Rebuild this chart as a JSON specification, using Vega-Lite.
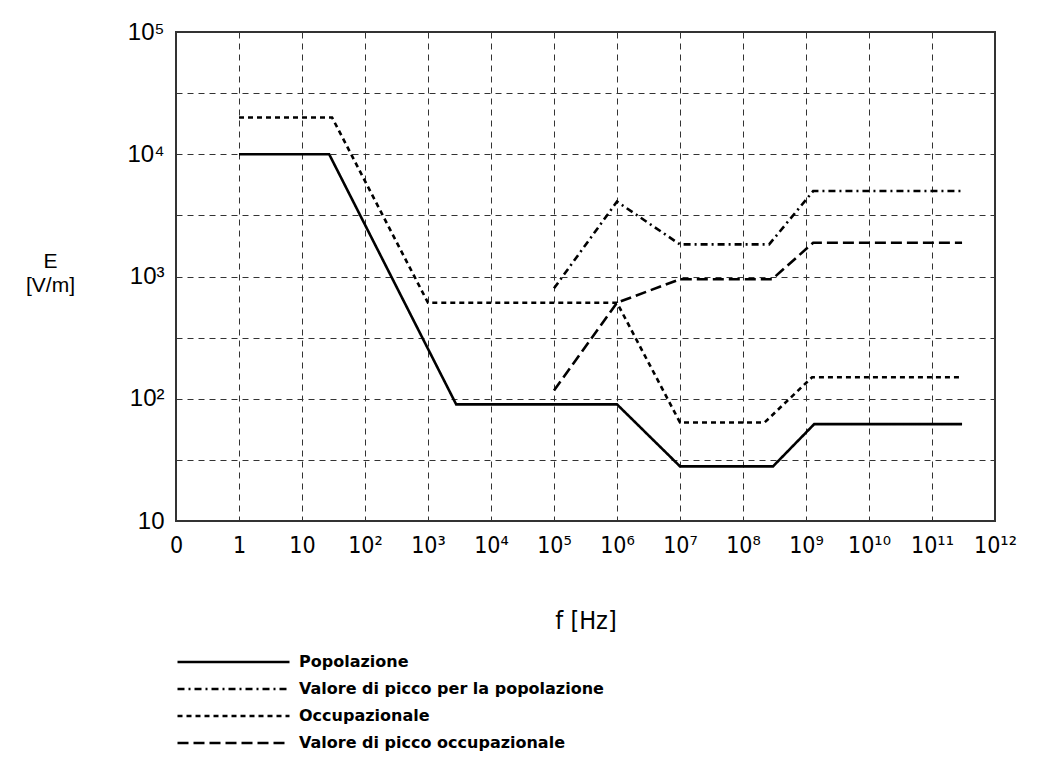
{
  "$schema": "https://vega.github.io/schema/vega-lite/v6.json",
  "width": 819,
  "height": 489,
  "autosize": "none",
  "padding": {"left": 176, "top": 32, "right": 43, "bottom": 250},
  "background": "white",
  "config": {
    "view": {"stroke": "#333", "strokeWidth": 2},
    "font": "Liberation Sans"
  },
  "data": {
    "values": [
      {"f": 1, "E": 10000, "s": "Popolazione"},
      {"f": 27, "E": 10000, "s": "Popolazione"},
      {"f": 2800, "E": 90, "s": "Popolazione"},
      {"f": 1000000, "E": 90, "s": "Popolazione"},
      {"f": 10000000, "E": 28, "s": "Popolazione"},
      {"f": 300000000, "E": 28, "s": "Popolazione"},
      {"f": 1350000000, "E": 62, "s": "Popolazione"},
      {"f": 300000000000, "E": 62, "s": "Popolazione"},
      {"f": 100000, "E": 800, "s": "Valore di picco per la popolazione"},
      {"f": 1000000, "E": 4100, "s": "Valore di picco per la popolazione"},
      {"f": 10000000, "E": 1830, "s": "Valore di picco per la popolazione"},
      {"f": 260000000, "E": 1830, "s": "Valore di picco per la popolazione"},
      {"f": 1300000000, "E": 5000, "s": "Valore di picco per la popolazione"},
      {"f": 300000000000, "E": 5000, "s": "Valore di picco per la popolazione"},
      {"f": 1, "E": 20000, "s": "Occupazionale"},
      {"f": 30, "E": 20000, "s": "Occupazionale"},
      {"f": 1000, "E": 610, "s": "Occupazionale"},
      {"f": 1000000, "E": 610, "s": "Occupazionale"},
      {"f": 10000000, "E": 64, "s": "Occupazionale"},
      {"f": 220000000, "E": 64, "s": "Occupazionale"},
      {"f": 1250000000, "E": 150, "s": "Occupazionale"},
      {"f": 300000000000, "E": 150, "s": "Occupazionale"},
      {"f": 100000, "E": 117, "s": "Valore di picco occupazionale"},
      {"f": 1000000, "E": 610, "s": "Valore di picco occupazionale"},
      {"f": 10000000, "E": 950, "s": "Valore di picco occupazionale"},
      {"f": 290000000, "E": 950, "s": "Valore di picco occupazionale"},
      {"f": 1300000000, "E": 1890, "s": "Valore di picco occupazionale"},
      {"f": 300000000000, "E": 1890, "s": "Valore di picco occupazionale"}
    ]
  },
  "mark": {"type": "line", "color": "black", "strokeWidth": 2.6, "clip": true},
  "encoding": {
    "x": {
      "field": "f",
      "type": "quantitative",
      "scale": {"type": "log", "domain": [0.1, 1000000000000], "nice": false},
      "axis": {
        "title": "f [Hz]",
        "values": [0.1, 1, 10, 100, 1000, 10000, 100000, 1000000, 10000000, 100000000, 1000000000, 10000000000, 100000000000, 1000000000000],
        "labelExpr": "['0','1','10','10²','10³','10⁴','10⁵','10⁶','10⁷','10⁸','10⁹','10¹⁰','10¹¹','10¹²'][round(log(datum.value)/LN10)+1]",
        "labelOverlap": false,
        "labelFlush": false,
        "labelBound": false,
        "labelFont": "DejaVu Sans Condensed",
        "labelFontSize": 23,
        "labelColor": "black",
        "labelPadding": 13,
        "ticks": false,
        "domain": false,
        "grid": true,
        "gridDash": [6, 5],
        "gridColor": "#333",
        "gridOpacity": 1,
        "gridWidth": 1,
        "titleFont": "DejaVu Sans Condensed",
        "titleFontSize": 25,
        "titleFontWeight": "normal",
        "titleColor": "black",
        "titleY": 99,
        "titleBaseline": "middle"
      }
    },
    "y": {
      "field": "E",
      "type": "quantitative",
      "scale": {"type": "log", "domain": [10, 100000], "nice": false},
      "axis": {
        "title": ["E", "[V/m]"],
        "values": [10, 31.62, 100, 316.2, 1000, 3162, 10000, 31623, 100000],
        "labelExpr": "abs(log(datum.value)/LN10 - round(log(datum.value)/LN10)) > 0.1 ? '' : ['', '10', '10²', '10³', '10⁴', '10⁵'][round(log(datum.value)/LN10)]",
        "labelOverlap": false,
        "labelFlush": false,
        "labelBound": false,
        "labelFontSize": 24,
        "labelColor": "black",
        "labelPadding": 12,
        "ticks": false,
        "domain": false,
        "grid": true,
        "gridDash": [6, 5],
        "gridColor": "#333",
        "gridOpacity": 1,
        "gridWidth": 1,
        "titleAngle": 0,
        "titleAlign": "center",
        "titleBaseline": "top",
        "titleX": -126,
        "titleY": 218,
        "titleFontSize": 21,
        "titleFontWeight": "normal",
        "titleColor": "black",
        "titleLineHeight": 24
      }
    },
    "strokeDash": {
      "field": "s",
      "type": "nominal",
      "scale": {
        "domain": ["Popolazione", "Valore di picco per la popolazione", "Occupazionale", "Valore di picco occupazionale"],
        "range": [[1, 0], [7, 4, 2, 4], [5, 4], [11, 5]]
      },
      "legend": {
        "title": null,
        "orient": "none",
        "legendX": 0,
        "legendY": 622,
        "symbolType": "stroke",
        "symbolSize": 12544,
        "symbolStrokeWidth": 2.6,
        "symbolStrokeColor": "black",
        "clipHeight": 16,
        "rowPadding": 11,
        "labelOffset": 8,
        "labelFont": "DejaVu Sans",
        "labelFontWeight": "bold",
        "labelFontSize": 16,
        "labelColor": "black",
        "labelLimit": 600
      }
    }
  }
}
